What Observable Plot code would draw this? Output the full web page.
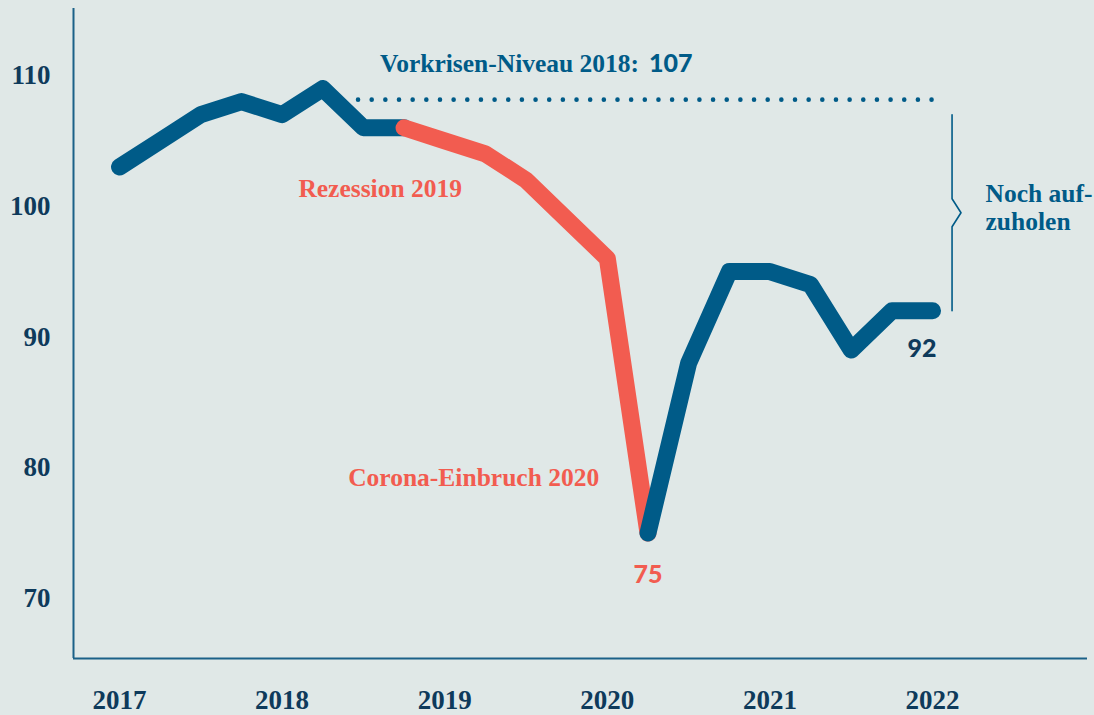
<!DOCTYPE html>
<html>
<head>
<meta charset="utf-8">
<script src="https://cdn.jsdelivr.net/npm/d3@7"></script>
<script src="https://cdn.jsdelivr.net/npm/@observablehq/plot@0.6"></script>
<style>
  html, body { margin: 0; padding: 0; background: #e0e8e7; }
  #chart svg { display: block; }
</style>
</head>
<body>
<div id="chart"></div>
<script>
// ---- data ----
const periods = [
  "2017 Q1", "2017 Q2", "2017 Q3", "2017 Q4",
  "2018 Q1", "2018 Q2", "2018 Q3", "2018 Q4",
  "2019 Q1", "2019 Q2", "2019 Q3", "2019 Q4",
  "2020 Q1", "2020 Q2", "2020 Q3", "2020 Q4",
  "2021 Q1", "2021 Q2", "2021 Q3", "2021 Q4",
  "2022 Q1"
];
const values = [
  103, 105, 107, 108,
  107, 109, 106, 106,
  105, 104, 102, 99,
  96, 75, 88, 95,
  95, 94, 89, 92,
  92
];
const yearTicks = [2017, 2018, 2019, 2020, 2021, 2022];
const valueTicks = [70, 80, 90, 100, 110];
const recessionStart = "2018 Q4";
const recessionEnd = "2020 Q2";
const preCrisisLine = 108.15;   // level of the dotted line as drawn
const preCrisisValue = 107;     // value printed in the label
const latestValue = 92;
const troughValue = 75;
const gapTop = 107, gapBottom = 92;
const labelPreCrisis = "Vorkrisen-Niveau 2018:";
const labelRecession = "Rezession 2019";
const labelCorona = "Corona-Einbruch 2020";
const labelGap = ["Noch auf-", "zuholen"];

// ---- build ----
const toX = p => { const [y, q] = p.split(" Q"); return +y + (+q - 1) / 4; };
const data = periods.map((p, i) => ({t: toX(p), v: values[i]}));
const iS = periods.indexOf(recessionStart), iE = periods.indexOf(recessionEnd);
const before = data.slice(0, iS + 1);
const recession = data.slice(iS, iE + 1);
const after = data.slice(iE);
const lastT = data[data.length - 1].t;
const troughT = data[iE].t;

const BLUE = "#005b88", RED = "#f25c50", NAVY = "#0e3a5b", AXIS = "#1b6188";
const SERIF = "Liberation Serif, serif";
const SANS = "Lato, sans-serif";
const xDomain = [2016.717, 2022.953];
const yDomain = [65.41, 115.12];

const bx = 2022.12, mid = (gapTop + gapBottom) / 2;
const bracket = [
  {t: bx, v: gapTop}, {t: bx, v: mid + 1.07}, {t: bx + 0.055, v: mid},
  {t: bx, v: mid - 1.07}, {t: bx, v: gapBottom}
];

const lineOpts = {x: "t", y: "v", strokeWidth: 17, strokeLinecap: "round", strokeLinejoin: "round"};
const annot = {fontSize: 25.5, fontWeight: 700, fontFamily: SERIF, lineAnchor: "bottom"};

const chart = Plot.plot({
  width: 1094,
  height: 715,
  marginLeft: 73,
  marginRight: 7,
  marginTop: 8,
  marginBottom: 57,
  style: {background: "#e0e8e7", fontFamily: SERIF, overflow: "visible"},
  x: {domain: xDomain, axis: null},
  y: {domain: yDomain, axis: null},
  marks: [
    Plot.axisY(valueTicks, {tickSize: 0, tickPadding: 23, fontSize: 27, fontWeight: 700, color: NAVY, fontFamily: SERIF, label: null}),
    Plot.axisX(yearTicks, {tickSize: 0, tickPadding: 31, fontSize: 27, fontWeight: 700, color: NAVY, fontFamily: SERIF, label: null, tickFormat: d => String(d)}),
    Plot.ruleX([xDomain[0]], {stroke: AXIS, strokeWidth: 2}),
    Plot.ruleY([yDomain[0]], {stroke: AXIS, strokeWidth: 2}),
    Plot.ruleY([preCrisisLine], {x1: 2018.47, x2: lastT, stroke: BLUE, strokeWidth: 4.6, strokeDasharray: "0 13.655", strokeLinecap: "round"}),
    Plot.line(bracket, {x: "t", y: "v", stroke: BLUE, strokeWidth: 1.6}),
    Plot.line(before, {...lineOpts, stroke: BLUE}),
    Plot.line(recession, {...lineOpts, stroke: RED}),
    Plot.line(after, {...lineOpts, stroke: BLUE}),
    Plot.text([labelPreCrisis], {...annot, x: 2020.22, y: 110.23, text: d => d, textAnchor: "end", dx: -4, fill: BLUE}),
    Plot.text([preCrisisValue], {x: 2020.22, y: 110.23, text: d => String(d), textAnchor: "start", lineAnchor: "bottom", dx: 6, fill: BLUE, fontSize: 25, fontWeight: 900, fontFamily: SANS}),
    Plot.text([labelRecession], {...annot, x: 2018.1, y: 100.67, text: d => d, textAnchor: "start", fill: RED}),
    Plot.text([labelCorona], {...annot, x: 2019.95, y: 78.64, text: d => d, textAnchor: "end", fill: RED}),
    Plot.text([troughValue], {x: troughT, y: 71.22, text: d => String(d), textAnchor: "middle", lineAnchor: "bottom", fill: RED, fontSize: 25, fontWeight: 900, fontFamily: SANS}),
    Plot.text([latestValue], {x: lastT, y: 88.43, text: d => String(d), textAnchor: "end", lineAnchor: "bottom", dx: 4, fill: NAVY, fontSize: 25, fontWeight: 900, fontFamily: SANS}),
    Plot.text([labelGap[0]], {...annot, x: 2022.326, y: 100.3, text: d => d, textAnchor: "start", fill: BLUE}),
    Plot.text([labelGap[1]], {...annot, x: 2022.326, y: 98.15, text: d => d, textAnchor: "start", fill: BLUE})
  ]
});
document.getElementById("chart").appendChild(chart);
</script>
</body>
</html>
